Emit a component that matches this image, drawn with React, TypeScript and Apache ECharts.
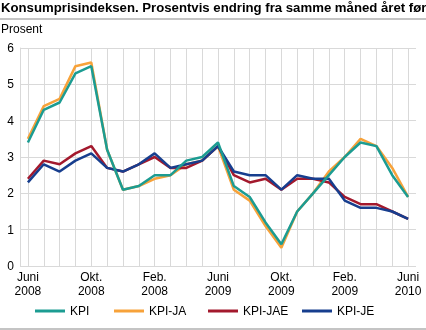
import React, { useEffect, useRef } from "react";
import * as echarts from "echarts";

const months = [
  "2008-06", "2008-07", "2008-08", "2008-09", "2008-10", "2008-11", "2008-12",
  "2009-01", "2009-02", "2009-03", "2009-04", "2009-05", "2009-06", "2009-07",
  "2009-08", "2009-09", "2009-10", "2009-11", "2009-12", "2010-01", "2010-02",
  "2010-03", "2010-04", "2010-05", "2010-06",
];
const tickLabels: Record<number, string> = {
  0: "Juni\n2008",
  4: "Okt.\n2008",
  8: "Feb.\n2008",
  12: "Juni\n2009",
  16: "Okt.\n2009",
  20: "Feb.\n2009",
  24: "Juni\n2010",
};
const kpi = [3.4, 4.3, 4.5, 5.3, 5.5, 3.2, 2.1, 2.2, 2.5, 2.5, 2.9, 3.0, 3.4, 2.2, 1.9, 1.2, 0.6, 1.5, 2.0, 2.5, 3.0, 3.4, 3.3, 2.5, 1.9];
const kpiJA = [3.5, 4.4, 4.6, 5.5, 5.6, 3.2, 2.1, 2.2, 2.4, 2.5, 2.8, 2.9, 3.3, 2.1, 1.8, 1.1, 0.5, 1.5, 2.0, 2.6, 3.0, 3.5, 3.3, 2.7, 1.9];
const kpiJAE = [2.4, 2.9, 2.8, 3.1, 3.3, 2.7, 2.6, 2.8, 3.0, 2.7, 2.7, 2.9, 3.3, 2.5, 2.3, 2.4, 2.1, 2.4, 2.4, 2.3, 1.9, 1.7, 1.7, 1.5, 1.3];
const kpiJE = [2.3, 2.8, 2.6, 2.9, 3.1, 2.7, 2.6, 2.8, 3.1, 2.7, 2.8, 2.9, 3.3, 2.6, 2.5, 2.5, 2.1, 2.5, 2.4, 2.4, 1.8, 1.6, 1.6, 1.5, 1.3];

const FONT = "'Liberation Sans', Arial, sans-serif";
const GRID_COLOR = "#d9d9d9";
const TITLE = "Konsumprisindeksen. Prosentvis endring fra samme måned året før";

const seriesDefs = [
  { name: "KPI-JA", data: kpiJA, color: "#f7a23a" },
  { name: "KPI-JAE", data: kpiJAE, color: "#a3192d" },
  { name: "KPI-JE", data: kpiJE, color: "#173e8e" },
  { name: "KPI", data: kpi, color: "#1c9c92" },
];
const legendPos = [
  { name: "KPI", left: 35 },
  { name: "KPI-JA", left: 114 },
  { name: "KPI-JAE", left: 208 },
  { name: "KPI-JE", left: 302 },
];

export default function App() {
  const ref = useRef<HTMLDivElement>(null);
  useEffect(() => {
    if (!ref.current) return;
    const chart = echarts.init(ref.current, null, { renderer: "svg" });
    const W = 426;
    const left0 = 20;
    const right0 = 10;
    const band = (W - left0 - right0) / months.length;
    chart.setOption({
      animation: false,
      textStyle: { fontFamily: FONT },
      graphic: [
        {
          type: "text",
          x: 1,
          y: 1,
          scaleX: 1.015,
          style: {
            text: TITLE,
            fontSize: 13,
            fontWeight: "bold",
            fill: "#000",
            fontFamily: FONT,
          },
        },
        { type: "rect", shape: { x: 0, y: 18, width: W, height: 2 }, style: { fill: "#c4c4c4" } },
        { type: "rect", shape: { x: 0, y: 328, width: W, height: 2 }, style: { fill: "#c4c4c4" } },
        {
          type: "text",
          left: 1,
          top: 23,
          style: { text: "Prosent", fontSize: 12, fill: "#000", fontFamily: FONT },
        },
      ],
      legend: legendPos.map((l) => ({
        data: [l.name],
        left: l.left,
        top: 305,
        padding: 0,
        icon: "rect",
        itemWidth: 30,
        itemHeight: 3,
        itemGap: 0,
        textStyle: { fontSize: 12, color: "#000", fontFamily: FONT, padding: [0, 0, 0, 0] },
      })),
      grid: [
        { left: left0, right: right0, top: 48, bottom: 64 },
        { left: left0 + band / 2, right: right0 + band / 2, top: 48, bottom: 64 },
      ],
      xAxis: [
        {
          type: "category",
          gridIndex: 0,
          data: months,
          boundaryGap: true,
          axisLine: { show: false },
          axisTick: { show: false },
          splitLine: { show: false },
          axisLabel: {
            interval: 0,
            margin: 4,
            fontSize: 12,
            lineHeight: 14,
            color: "#000",
            fontFamily: FONT,
            formatter: (_v: string, i: number) => tickLabels[i] ?? "",
          },
        },
        {
          type: "value",
          gridIndex: 1,
          min: 0,
          max: months.length - 1,
          interval: 1,
          axisLine: { show: false },
          axisTick: { show: false },
          axisLabel: { show: false },
          splitLine: { show: true, lineStyle: { color: GRID_COLOR, width: 1 } },
        },
      ],
      yAxis: [
        {
          type: "value",
          gridIndex: 0,
          min: 0,
          max: 6,
          interval: 1,
          axisLine: { show: true, lineStyle: { color: GRID_COLOR, width: 1 } },
          axisTick: { show: false },
          axisLabel: { margin: 6, fontSize: 12, color: "#000", fontFamily: FONT },
          splitLine: { show: true, lineStyle: { color: GRID_COLOR, width: 1 } },
        },
        {
          type: "value",
          gridIndex: 1,
          min: 0,
          max: 6,
          show: false,
        },
      ],
      series: seriesDefs.map((s) => ({
        name: s.name,
        type: "line",
        xAxisIndex: 1,
        yAxisIndex: 1,
        data: s.data.map((v, i) => [i, v]),
        showSymbol: false,
        symbol: "none",
        color: s.color,
        lineStyle: { width: 2.5, color: s.color },
        itemStyle: { color: s.color },
      })),
    });
    return () => chart.dispose();
  }, []);
  return (
    <div
      ref={ref}
      style={{ position: "fixed", left: 0, top: 0, width: 426, height: 330 }}
    />
  );
}
